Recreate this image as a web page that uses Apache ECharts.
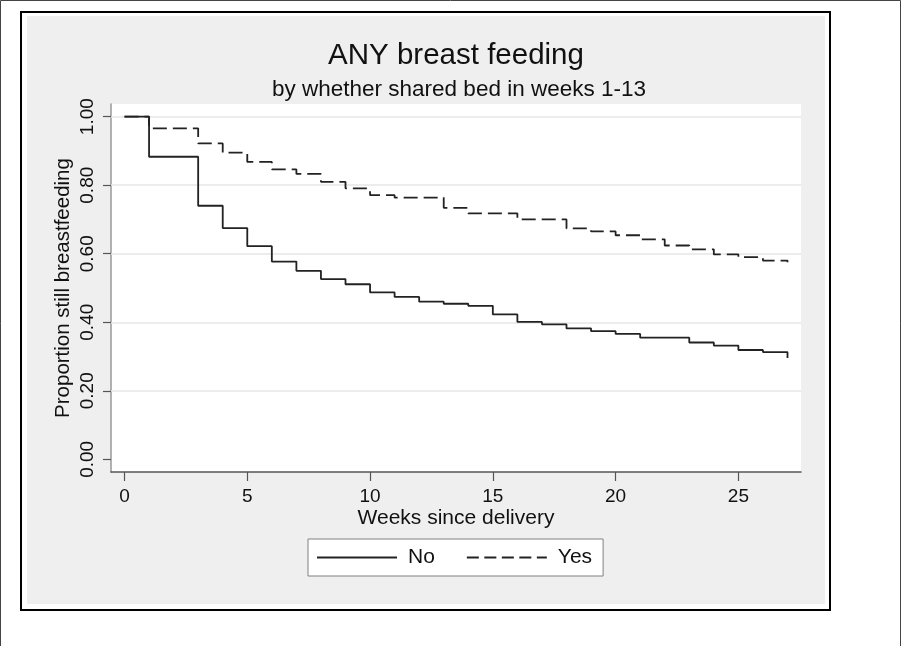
<!DOCTYPE html>
<html>
<head>
<meta charset="utf-8">
<title>ANY breast feeding</title>
<script src="https://cdn.jsdelivr.net/npm/echarts@6/dist/echarts.min.js"></script>
<style>
html, body { margin: 0; padding: 0; background: #fff; }
#chart { width: 902px; height: 646px; }
</style>
</head>
<body>
<div id="chart"></div>
<script>
// survival curves (week where the step happens, value after it)
const weeksNo = [0, 1, 3, 4, 5, 6, 7, 8, 9, 10, 11, 12, 13, 14, 15, 16, 17, 18, 19, 20, 21, 23, 24, 25, 26, 27]
const survNo = [1.0, 0.883, 0.740, 0.675, 0.622, 0.577, 0.550, 0.526, 0.511, 0.487, 0.474, 0.460, 0.454, 0.448, 0.423, 0.401, 0.394, 0.382, 0.374, 0.366, 0.355, 0.341, 0.332, 0.319, 0.313, 0.296]
const weeksYes = [0, 1, 3, 4, 5, 6, 7, 8, 9, 10, 11, 13, 14, 16, 18, 19, 20, 21, 22, 23, 24, 25, 26, 27]
const survYes = [1.0, 0.966, 0.922, 0.895, 0.868, 0.846, 0.833, 0.810, 0.791, 0.771, 0.764, 0.734, 0.718, 0.700, 0.674, 0.665, 0.654, 0.642, 0.624, 0.613, 0.598, 0.590, 0.580, 0.575]

const xTicks = [0, 5, 10, 15, 20, 25]
const yTicks = [0, 0.2, 0.4, 0.6, 0.8, 1.0]
const yGrid = [0.2, 0.4, 0.6, 0.8, 1.0] // no grid line at 0

const font = "'Liberation Sans', Arial, sans-serif"
const ink = '#111'

const chart = echarts.init(document.getElementById('chart'))

const option = {
  backgroundColor: '#fff',
  animation: false,
  graphic: [
    { type: 'rect', z: -10, silent: true, shape: { x: 0.5, y: 0.5, width: 900, height: 700 }, style: { fill: '#fff', stroke: '#444', lineWidth: 1 } },
    { type: 'rect', z: -9, silent: true, shape: { x: 21, y: 12, width: 809, height: 598 }, style: { fill: '#fff', stroke: '#000', lineWidth: 2 } },
    { type: 'rect', z: -8, silent: true, shape: { x: 27, y: 16, width: 798, height: 588 }, style: { fill: '#efefef' } }
  ],
  title: [
    {
      text: 'ANY breast feeding',
      left: 456,
      top: 41,
      textAlign: 'center',
      padding: 0,
      textStyle: { fontFamily: font, fontSize: 29.5, fontWeight: 'normal', color: ink }
    },
    {
      text: 'by whether shared bed in weeks 1-13',
      left: 459,
      top: 78,
      textAlign: 'center',
      padding: 0,
      textStyle: { fontFamily: font, fontSize: 22.5, fontWeight: 'normal', color: ink }
    }
  ],
  legend: {
    left: 308,
    top: 539,
    orient: 'horizontal',
    padding: [8, 11, 8, 8],
    itemWidth: 80,
    itemHeight: 20,
    itemGap: 31,
    backgroundColor: '#fff',
    borderColor: '#808080',
    borderWidth: 1,
    borderRadius: 0,
    itemStyle: { opacity: 0 },
    textStyle: { fontFamily: font, fontSize: 21, color: ink, padding: [0, 0, 0, 6] },
    data: [
      { name: 'No' },
      { name: 'Yes', lineStyle: { type: [12, 5.5] } }
    ]
  },
  grid: {
    left: 111,
    top: 104,
    right: 101,
    bottom: 174,
    show: true,
    backgroundColor: '#fff',
    borderWidth: 0
  },
  xAxis: {
    type: 'value',
    min: -0.55,
    max: 27.55,
    name: 'Weeks since delivery',
    nameLocation: 'middle',
    nameGap: 36,
    nameMoveOverlap: false,
    nameTextStyle: { fontFamily: font, fontSize: 21, color: ink },
    axisLine: { show: true, onZero: false, lineStyle: { color: '#555', width: 1.5 } },
    axisTick: { show: true, length: 9, customValues: xTicks, lineStyle: { color: '#555', width: 1.2 } },
    axisLabel: { customValues: xTicks, margin: 15, fontFamily: font, fontSize: 19, color: ink },
    splitLine: { show: false }
  },
  yAxis: {
    type: 'value',
    min: -0.037,
    max: 1.037,
    name: 'Proportion still breastfeeding',
    nameLocation: 'middle',
    nameRotate: 90,
    nameGap: 37,
    nameMoveOverlap: false,
    nameTextStyle: { fontFamily: font, fontSize: 20.5, color: ink },
    axisLine: { show: true, onZero: false, lineStyle: { color: '#999', width: 1.5 } },
    axisTick: { show: true, length: 8, customValues: yTicks, lineStyle: { color: '#555', width: 1.2 } },
    axisLabel: {
      customValues: yTicks,
      rotate: 90,
      margin: 14,
      fontFamily: font,
      fontSize: 19,
      color: ink,
      formatter: v => v.toFixed(2)
    },
    splitLine: { show: false }
  },
  series: [
    {
      name: 'No',
      type: 'line',
      step: 'end',
      symbol: 'none',
      z: 3,
      lineStyle: { color: '#222', width: 1.8, type: 'solid' },
      itemStyle: { color: '#222' },
      data: weeksNo.map((w, i) => [w, survNo[i]]),
      markLine: {
        silent: true,
        z: 1,
        symbol: 'none',
        label: { show: false },
        lineStyle: { color: '#e6e6e6', width: 1.5, type: 'solid' },
        data: yGrid.map(v => ({ yAxis: v }))
      }
    },
    {
      name: 'Yes',
      type: 'line',
      step: 'end',
      symbol: 'none',
      z: 3,
      lineStyle: { color: '#222', width: 1.8, type: [14, 6] },
      itemStyle: { color: '#222' },
      data: weeksYes.map((w, i) => [w, survYes[i]])
    }
  ]
}

chart.setOption(option)
</script>
</body>
</html>
